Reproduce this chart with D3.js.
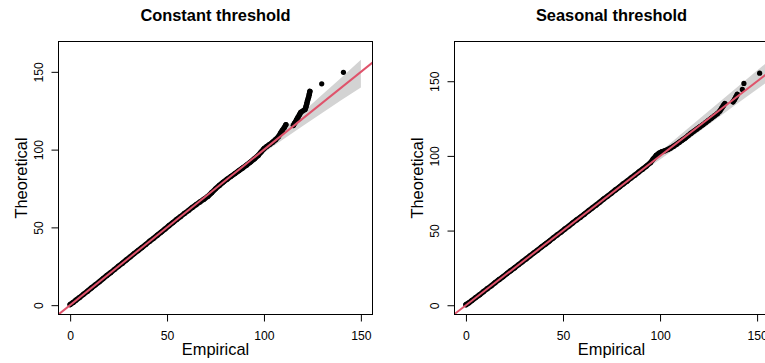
<!DOCTYPE html>
<html>
<head>
<meta charset="utf-8">
<script src="https://cdn.jsdelivr.net/npm/d3@7"></script>
<style>
  body { margin: 0; background: #fff; }
  text { font-family: "Liberation Sans", Arial, Helvetica, sans-serif; }
</style>
</head>
<body>
<div id="chart"></div>
<script>

// Data
var titles = ["Constant threshold", "Seasonal threshold"];
var ticks = [0, 50, 100, 150];

// Constant threshold: empirical vs theoretical quantiles
var emp1 = [0, 1.5, 3, 5, 7, 9, 11, 13, 15, 17, 19, 21, 23, 25, 27, 29, 31, 33, 35, 37, 39, 41, 43, 45, 47, 49, 51, 53, 55, 57, 59,
  61, 63, 65, 67, 69, 71, 73, 75, 77, 79, 81, 83, 85, 87, 89, 91, 93, 95, 97,
  98.5, 100, 101.5, 103, 104.5, 106, 107.5, 108.5, 109.5, 110.5, 111.3,
  115.2, 116, 116.8, 117.6, 118.4, 119, 121.2, 121.7, 122.1, 122.5, 123, 123.4, 123.7, 129.8, 141];
var theo1 = [0.4, 1.7, 3.2, 5.1, 7.1, 9, 11.1, 13.1, 15, 17.1, 19.1, 21, 23.1, 25.1, 27, 29.1, 31.1, 33.1, 35, 37, 39, 41.1, 43, 45, 47, 49, 51.1, 53.1, 55.1, 57, 59,
  60.8, 62.8, 64.6, 66.4, 68.1, 69.9, 72.3, 74.8, 77, 79.1, 81, 82.8, 84.6, 86.4, 88.2, 90, 92, 94, 96.2,
  98.4, 100.6, 102.1, 103.4, 104.8, 106.4, 108.4, 110.5, 112.4, 114.2, 116,
  115.6, 117.3, 119.1, 120.9, 122.6, 124, 125.8, 127.6, 129.5, 131.6, 133.6, 135.6, 137.5, 142.3, 149.7];
var bandX1  = [0, 20, 40, 60, 80, 90, 100, 110, 120, 130, 140, 150];
var bandLo1 = [-0.3, 19.7, 39.6, 59.4, 79.2, 88.8, 98, 106.7, 115.2, 123.6, 131.9, 140];
var bandHi1 = [0.3, 20.3, 40.4, 60.6, 80.8, 91.1, 102, 113, 124, 135.2, 146.4, 157.7];

// Seasonal threshold
var emp2 = [0, 1.5, 3, 5, 7, 9, 11, 13, 15, 17, 19, 21, 23, 25, 27, 29, 31, 33, 35, 37, 39, 41, 43, 45, 47, 49, 51, 53, 55, 57, 59,
  61, 63, 65, 67, 69, 71, 73, 75, 77, 79, 81, 83, 85, 87, 89, 91, 93,
  95, 96.5, 98, 99.5, 101, 102.5, 104, 105.5, 107, 108.5, 110, 111.5, 113, 114.5, 116, 117.5, 119, 120.5, 122, 123.5, 125, 126.5, 128, 129.5,
  130.8, 131.8, 132.6, 133.4, 137.6, 138.4, 139.1, 139.8, 142.4, 143.2, 151.3];
var theo2 = [0.4, 1.6, 3.1, 5.1, 7, 9.1, 11.1, 13, 15.1, 17.1, 19, 21.1, 23.1, 25, 27.1, 29.1, 31, 33.1, 35.1, 37, 39.1, 41, 43, 45.1, 47.1, 49, 51.1, 53, 55.1, 57.1, 59,
  61, 63.1, 65.1, 67, 69.1, 71.2, 73.1, 75.1, 77.2, 79.1, 81.2, 83.1, 85.2, 87.1, 89.2, 91.1, 93.2,
  95.4, 98, 100.3, 101.8, 102.8, 103.5, 104.3, 105.3, 106.5, 107.8, 109.2, 110.6, 112, 113.6, 115.2, 116.6, 118, 119.4, 120.8, 122.3, 123.8, 125.3, 126.8, 128.3,
  130, 132, 133.6, 135, 136.2, 137.8, 139.5, 141.2, 144.5, 148.5, 155.4];
var bandX2  = [0, 20, 40, 60, 80, 90, 100, 110, 120, 130, 140, 150, 160];
var bandLo2 = [-0.3, 19.7, 39.6, 59.4, 79.3, 88.9, 97.6, 106.8, 116.2, 125.7, 135.2, 144.6, 154];
var bandHi2 = [0.3, 20.3, 40.4, 60.6, 80.8, 91.2, 102.6, 113.6, 124.6, 135.4, 146.3, 157.2, 168];

var chart_width  = 765;
var chart_height = 363;

var svg = d3.select('#chart')
  .append('svg')
  .attr('width', chart_width)
  .attr('height', chart_height);

svg.append('rect')
  .attr('width', chart_width)
  .attr('height', chart_height)
  .attr('fill', '#fff');

drawPanel({
  id: 'p1', title: titles[0], emp: emp1, theo: theo1,
  bx: bandX1, blo: bandLo1, bhi: bandHi1,
  xDomain: [-6, 156], xRange: [58.5, 372.5],
  yDomain: [-6, 169.5]
});

drawPanel({
  id: 'p2', title: titles[1], emp: emp2, theo: theo2,
  bx: bandX2, blo: bandLo2, bhi: bandHi2,
  xDomain: [-5.9, 163.5], xRange: [454.5, 783.3],
  yDomain: [-6.2, 176.6]
});

function drawPanel(p) {
  var top = 41.5, bottom = 314.5;
  var left = p.xRange[0], right = p.xRange[1];

  // Create Scales
  var x_scale = d3.scaleLinear().domain(p.xDomain).range(p.xRange);
  var y_scale = d3.scaleLinear().domain(p.yDomain).range([bottom, top]);

  svg.append('clipPath')
    .attr('id', 'clip-' + p.id)
    .append('rect')
    .attr('x', left).attr('y', top)
    .attr('width', right - left).attr('height', bottom - top);

  var g = svg.append('g').attr('clip-path', 'url(#clip-' + p.id + ')');

  // confidence band
  var band = p.bx.map(function(d, i){ return [d, p.blo[i], p.bhi[i]]; });
  g.append('path')
    .datum(band)
    .attr('fill', '#d3d3d3')
    .attr('d', d3.area()
      .x(function(d){ return x_scale(d[0]); })
      .y0(function(d){ return y_scale(d[1]); })
      .y1(function(d){ return y_scale(d[2]); }));

  // points, joined where they sit close together
  var pts = p.emp.map(function(d, i){ return [x_scale(d), y_scale(p.theo[i])]; });
  var runs = [], cur = [pts[0]];
  for (var i = 1; i < pts.length; i++) {
    var dx = pts[i][0] - pts[i-1][0], dy = pts[i][1] - pts[i-1][1];
    if (Math.sqrt(dx*dx + dy*dy) < 5.6) cur.push(pts[i]);
    else { runs.push(cur); cur = [pts[i]]; }
  }
  runs.push(cur);

  g.selectAll('path.run')
    .data(runs.filter(function(r){ return r.length > 1; }))
    .enter()
    .append('path')
    .attr('class', 'run')
    .attr('fill', 'none')
    .attr('stroke', '#000')
    .attr('stroke-width', 5.4)
    .attr('stroke-linecap', 'round')
    .attr('stroke-linejoin', 'round')
    .attr('d', d3.line());

  g.selectAll('circle')
    .data(pts)
    .enter()
    .append('circle')
    .attr('cx', function(d){ return d[0]; })
    .attr('cy', function(d){ return d[1]; })
    .attr('r', 2.6)
    .attr('fill', '#000');

  // 1:1 reference line
  var lo = p.xDomain[0], hi = p.xDomain[1];
  g.append('line')
    .attr('x1', x_scale(lo)).attr('y1', y_scale(lo))
    .attr('x2', x_scale(hi)).attr('y2', y_scale(hi))
    .attr('stroke', '#DF536B')
    .attr('stroke-width', 2);

  // box
  svg.append('rect')
    .attr('x', left).attr('y', top)
    .attr('width', right - left).attr('height', bottom - top)
    .attr('fill', 'none')
    .attr('stroke', '#000')
    .attr('stroke-width', 1);

  // axes
  var xAxis = d3.axisBottom(x_scale).tickValues(ticks).tickSize(7).tickPadding(10.3);
  var gx = svg.append('g')
    .attr('transform', 'translate(0,' + bottom + ')')
    .call(xAxis);
  gx.select('.domain').remove();
  gx.selectAll('text').attr('font-size', '12.2px').attr('fill', '#000')
    .style('font-family', '"Liberation Sans", Arial, sans-serif');

  var yAxis = d3.axisLeft(y_scale).tickValues(ticks).tickSize(7);
  var gy = svg.append('g')
    .attr('transform', 'translate(' + left + ',0)')
    .call(yAxis);
  gy.select('.domain').remove();
  gy.selectAll('text')
    .attr('x', null).attr('dy', null)
    .attr('text-anchor', 'middle')
    .attr('transform', 'translate(-15.6,0) rotate(-90)')
    .attr('font-size', '12.2px').attr('fill', '#000')
    .style('font-family', '"Liberation Sans", Arial, sans-serif');

  var cx = (left + Math.min(right, left + 314)) / 2;

  svg.append('text')
    .attr('x', cx).attr('y', 20.5)
    .attr('text-anchor', 'middle')
    .attr('font-weight', 'bold')
    .attr('font-size', '16.4px')
    .text(p.title);

  svg.append('text')
    .attr('x', cx).attr('y', 354.5)
    .attr('text-anchor', 'middle')
    .attr('font-size', '16.4px')
    .text('Empirical');

  svg.append('text')
    .attr('transform', 'translate(' + (left - 32) + ',' + ((top + bottom) / 2) + ') rotate(-90)')
    .attr('text-anchor', 'middle')
    .attr('font-size', '16.4px')
    .text('Theoretical');
}
</script>
</body>
</html>
